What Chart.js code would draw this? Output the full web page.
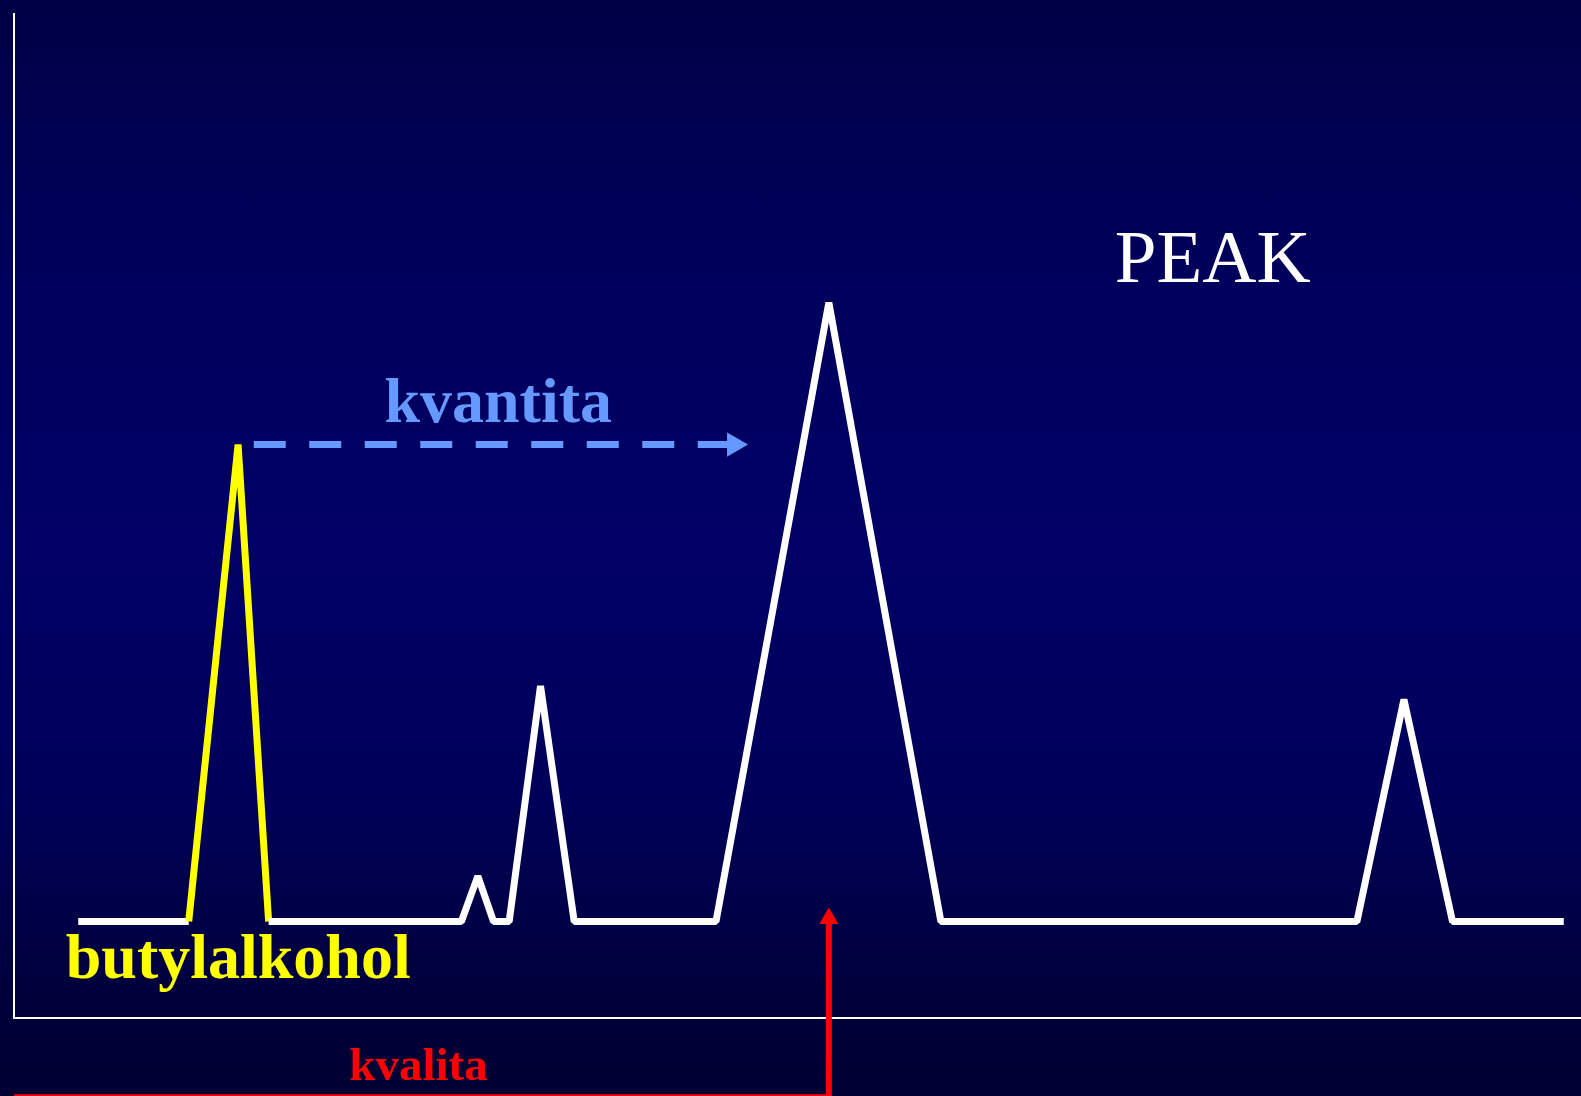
<!DOCTYPE html>
<html>
<head>
<meta charset="utf-8">
<script src="https://cdn.jsdelivr.net/npm/chart.js@4/dist/chart.umd.min.js"></script>
<style>
  html, body { margin: 0; padding: 0; overflow: hidden; }
  body {
    width: 1581px; height: 1096px;
    background: linear-gradient(to bottom, #000046 0%, #00005c 25%, #000066 50%, #00005a 72%, #00003c 90%, #000032 100%);
  }
  /* canvas a bit wider than the page: the x axis runs out past the right edge */
  #wrap { position: relative; width: 1595px; height: 1096px; }
</style>
</head>
<body>
<div id="wrap"><canvas id="chrom"></canvas></div>
<script>
// chromatogram trace (retention time, detector signal)
var traceTime   = [0.82, 2.23, 2.86, 3.25, 5.71, 5.92, 6.12, 6.32, 6.72, 7.15, 8.96, 10.40, 11.83, 17.14, 17.74, 18.36, 19.78];
var traceSignal = [10,   10,   59.4, 10,   10,   14.7, 10,   10,   34.4, 10,   10,   74.1,  10,    10,    33.0,  10,    10];

// internal standard peak (butylalkohol) = segments between these indexes
var standardFrom = 1;
var standardTo = 3;

// "kvantita" comparison arrow (from standard height toward the main peak)
var quantTime   = [3.06, 9.19];
var quantSignal = [59.4, 59.4];

// "kvalita" retention time marker
var qualTime   = [0, 10.40, 10.40];
var qualSignal = [-8.2, -8.2, 10.31];

var texts = ['PEAK', 'kvantita', 'butylalkohol', 'kvalita'];

function toXY(xs, ys) {
    var out = [];
    for (var i = 0; i < xs.length; i++) {
        out.push({x: xs[i], y: ys[i]});
    }
    return out;
}

// where the texts go (data units) and how they look
var textSpots = [
    {x: 14.05, y: 76.2,  color: '#ffffff', font: 'normal 75px "Liberation Serif"', align: 'left'},
    {x: 6.18,  y: 61.75, color: '#6699ff', font: 'bold 64px "Liberation Serif"',   align: 'center'},
    {x: 0.66,  y: 4.12,  color: '#ffff00', font: 'bold 64px "Liberation Serif"',   align: 'left'},
    {x: 4.28,  y: -6.39, color: '#ff0000', font: 'bold 47px "Liberation Serif"',   align: 'left'}
];

var textPlugin = {
    id: 'slideTexts',
    afterDatasetsDraw: function(chart) {
        var ctx = chart.ctx;
        var xs = chart.scales.x, ys = chart.scales.y;
        ctx.save();
        ctx.textBaseline = 'alphabetic';
        for (var i = 0; i < texts.length; i++) {
            var s = textSpots[i];
            ctx.font = s.font;
            ctx.fillStyle = s.color;
            ctx.textAlign = s.align;
            ctx.fillText(texts[i], xs.getPixelForValue(s.x), ys.getPixelForValue(s.y));
        }
        ctx.restore();
    }
};

var ctx = document.getElementById('chrom');

var chart = new Chart(ctx, {
    type: 'line',
    data: {
        datasets: [
            {
                label: 'trace',
                data: toXY(traceTime, traceSignal),
                borderColor: '#ffffff',
                borderWidth: 7,
                borderJoinStyle: 'bevel',
                borderCapStyle: 'butt',
                pointRadius: 0,
                tension: 0,
                segment: {
                    borderColor: function(c) {
                        return (c.p0DataIndex >= standardFrom && c.p0DataIndex < standardTo) ? '#ffff00' : undefined;
                    }
                }
            },
            {
                label: 'kvantita',
                data: toXY(quantTime, quantSignal),
                borderColor: '#6699ff',
                borderWidth: 7,
                borderDash: [32, 23.5],
                borderCapStyle: 'butt',
                pointStyle: 'triangle',
                pointRotation: 90,
                pointRadius: [0, 14],
                pointBackgroundColor: '#6699ff',
                pointBorderWidth: 0,
                tension: 0
            },
            {
                label: 'kvalita',
                data: toXY(qualTime, qualSignal),
                borderColor: '#ff0000',
                borderWidth: 6,
                borderJoinStyle: 'miter',
                pointStyle: 'triangle',
                pointRotation: 0,
                pointRadius: [0, 0, 11],
                pointBackgroundColor: '#ff0000',
                pointBorderWidth: 0,
                tension: 0,
                clip: false
            }
        ]
    },
    options: {
        responsive: true,
        maintainAspectRatio: false,
        animation: false,
        events: [],
        layout: { padding: { left: 12, top: 9, right: 0, bottom: 78 } },
        plugins: {
            legend: { display: false },
            tooltip: { enabled: false }
        },
        scales: {
            x: {
                type: 'linear',
                min: 0,
                max: 20,
                grid: { display: false, drawTicks: false },
                ticks: { display: false },
                border: { display: true, color: '#ffffff', width: 2 }
            },
            y: {
                type: 'linear',
                min: 0,
                max: 104,
                grid: { display: false, drawTicks: false },
                ticks: { display: false },
                border: { display: true, color: '#ffffff', width: 2 }
            }
        }
    },
    plugins: [textPlugin]
});
</script>
</body>
</html>
